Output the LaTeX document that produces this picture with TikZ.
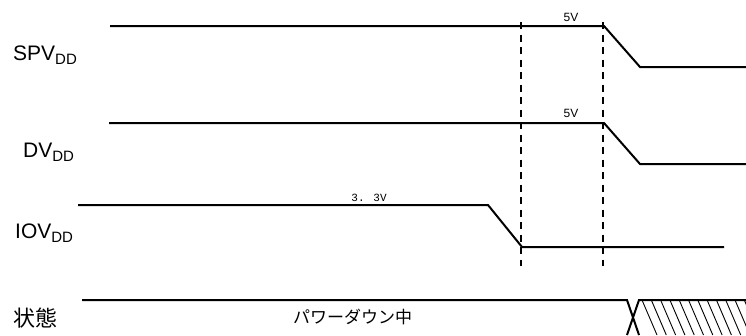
\documentclass[tikz,border=0pt]{standalone}
\usepackage{fontspec}
\setmainfont{Liberation Sans}
\newfontfamily\jpfont{Noto Sans CJK JP}
\newfontfamily\monofont{Liberation Mono}
\begin{document}
\begin{tikzpicture}[x=1pt,y=-1pt,
  sig/.style={line width=2pt},
  dsh/.style={line width=2pt,dash pattern=on 7pt off 5.5pt},
  lbl/.style={anchor=base west,inner sep=0pt,font=\fontsize{21}{21}\selectfont},
  val/.style={inner sep=0pt,font=\fontsize{12}{12}\selectfont},
  hatch/.style={line width=0.9pt}]
\useasboundingbox (0,0) rectangle (746,335);
% labels
\node[lbl] (spvl) at (13,60) {SPV\raisebox{-4pt}{\fontsize{15}{15}\selectfont DD}};
\node[lbl] (dvl) at (23,157) {DV\raisebox{-4pt}{\fontsize{15}{15}\selectfont DD}};
\node[lbl] (iovl) at (15,238) {IOV\raisebox{-4pt}{\fontsize{15}{15}\selectfont DD}};
\node[inner sep=0pt,anchor=west,font=\jpfont\fontsize{22}{22}\selectfont] (stl) at (13,318) {状態};
% SPV
\coordinate (s0) at (110,26); \coordinate (s1) at (604,26);
\coordinate (s2) at (640,67); \coordinate (s3) at (746,67);
\draw[sig] (s0) -- (s1) -- (s2) -- (s3);
\node[val] (v1) at (571,17) {5V};
% DV
\coordinate (d0) at (109,123); \coordinate (d1) at (604,123);
\coordinate (d2) at (640,164); \coordinate (d3) at (746,164);
\draw[sig] (d0) -- (d1) -- (d2) -- (d3);
\node[val] (v2) at (571,113) {5V};
% IOV
\coordinate (i0) at (78,205); \coordinate (i1) at (488,205);
\coordinate (i2) at (522,247); \coordinate (i3) at (724,247);
\draw[sig] (i0) -- (i1) -- (i2) -- (i3);
\node[inner sep=0pt,font=\monofont\fontsize{11}{11}\selectfont] (v3) at (369,198) {3. 3V};
% dashed
\coordinate (a0) at (521,22); \coordinate (a1) at (521,266);
\coordinate (b0) at (603,22); \coordinate (b1) at (603,266);
\draw[dsh] (a0) -- (a1);
\draw[dsh] (b0) -- (b1);
% status
\coordinate (t0) at (82,300); \coordinate (t1) at (627,300);
\coordinate (t2) at (639,300); \coordinate (t3) at (746,300);
\coordinate (u1) at (627,335); \coordinate (u2) at (639,335);
\draw[sig] (t0) -- (t1) -- (u2);
\draw[sig] (u1) -- (t2) -- (t3);
\node[inner sep=0pt,anchor=west,font=\jpfont\fontsize{17}{17}\selectfont] (pd) at (293,317) {パワーダウン中};
\begin{scope}
\clip (640,301) rectangle (746,335);
\foreach \k in {0,...,13} {
  \draw[hatch] (642+9.3*\k,300) -- (657+9.3*\k,335);
}
\end{scope}
\end{tikzpicture}
\end{document}
